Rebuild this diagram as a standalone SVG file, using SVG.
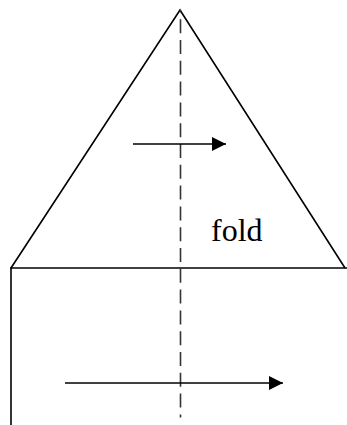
<svg xmlns="http://www.w3.org/2000/svg" width="347" height="425" viewBox="0 0 347 425">
<style>
.ln{stroke:#000;fill:none;stroke-width:1.6}
.t{font-family:"Liberation Serif","Times New Roman",serif;font-size:32px;fill:#000}
</style>
<defs>
<marker id="ah" viewBox="0 0 10 10" refX="10" refY="5" markerWidth="14" markerHeight="14" markerUnits="userSpaceOnUse" orient="auto">
<path d="M0,0 L10,5 L0,10 z" fill="#000"/>
</marker>
</defs>
<rect width="347" height="425" fill="#fff"/>
<g id="triangle"><path class="ln" d="M11,268 L180,10 L345,268"/></g>
<g id="base"><line class="ln" x1="10" y1="268" x2="347" y2="268" stroke-width="2.6"/><line class="ln" x1="11" y1="268" x2="11" y2="425" stroke-width="2"/></g>
<g id="foldline"><line x1="180.5" y1="10" x2="180.5" y2="417.5" stroke="#333" stroke-width="1.6" stroke-dasharray="14,6.8" stroke-dashoffset="11.6"/></g>
<g id="label"><text class="t" x="211" y="241">fold</text></g>
<g id="connectors">
<line class="ln" x1="133" y1="144" x2="226" y2="144" marker-end="url(#ah)"/>
<line class="ln" x1="65" y1="383" x2="283" y2="383" marker-end="url(#ah)"/>
</g>
</svg>
